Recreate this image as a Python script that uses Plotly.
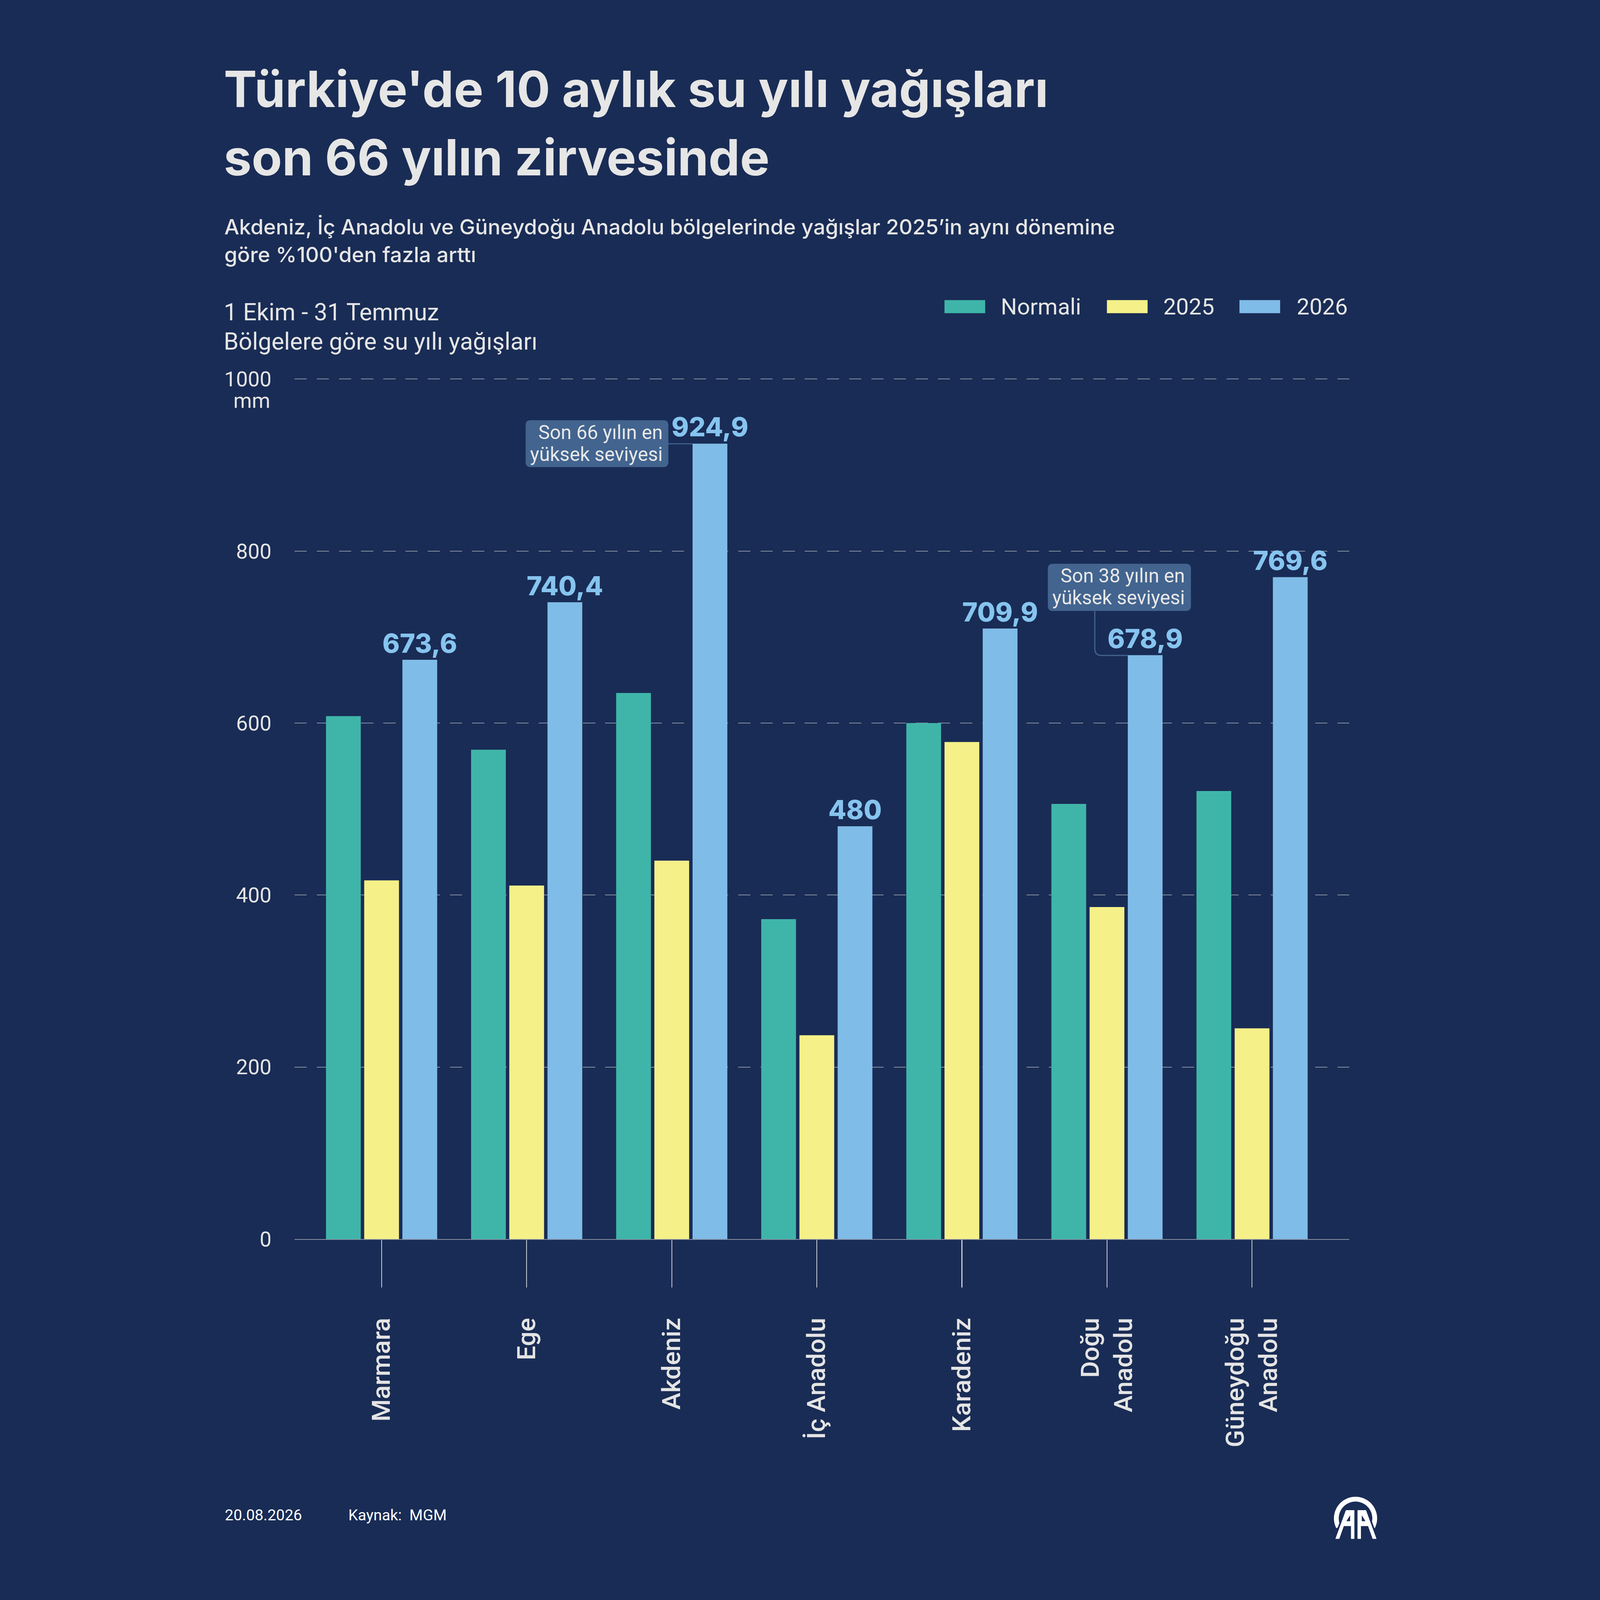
import math
import plotly.graph_objects as go

# ---------------- data ----------------
regions = ["Marmara", "Ege", "Akdeniz", "İç Anadolu", "Karadeniz", "Doğu Anadolu", "Güneydoğu Anadolu"]
region_labels = ["Marmara", "Ege", "Akdeniz", "İç Anadolu", "Karadeniz", "Doğu<br>Anadolu", "Güneydoğu<br>Anadolu"]
normal_vals = [608, 569, 635, 372, 600, 506, 521]
vals_2025 = [417, 411, 440, 237, 578, 386, 245]
vals_2026 = [673.6, 740.4, 924.9, 480, 709.9, 678.9, 769.6]
series_names = ["Normali", "2025", "2026"]
y_ticks = [0, 200, 400, 600, 800, 1000]
y_ticktext = ["0", "200", "400", "600", "800", "1000"]

title_lines = ["Türkiye'de 10 aylık su yılı yağışları", "son 66 yılın zirvesinde"]
subtitle_lines = ["Akdeniz, İç Anadolu ve Güneydoğu Anadolu bölgelerinde yağışlar 2025’in aynı dönemine",
                  "göre %100'den fazla arttı"]
chart_lines = ["1 Ekim - 31 Temmuz", "Bölgelere göre su yılı yağışları"]
note1 = ["Son 66 yılın en", "yüksek seviyesi"]
note2 = ["Son 38 yılın en", "yüksek seviyesi"]
footer_date = "20.08.2026"
footer_src = "Kaynak:  MGM"

# ---------------- style ----------------
BG = "#192c55"
C_NORMAL = "#3fb5a9"
C_2025 = "#f5f088"
C_2026 = "#80bce8"
C_LABEL = "#86c4ef"
C_TEXT = "#e4e4e4"
C_GRID = "#8790a3"
C_BOX = "#42648f"
colors = [C_NORMAL, C_2025, C_2026]

W, H = 4500, 5625
X0, X1 = 473, 4181       # plot area in px
YB, YT = 4356, 1331      # bottom / top of plot area in px
XR = [-0.6, 6.67]
BARGAP, GROUPGAP = 0.21, 0.09


def px(x):
    return (x - X0) / (X1 - X0)


def py(y):
    return (YB - y) / (YB - YT)


def poly(pts):
    return "M " + " L ".join(f"{px(x):.5f},{py(y):.5f}" for x, y in pts) + " Z"


def rbox(x0, y0, x1, y1, r):
    p = lambda x, y: f"{px(x):.5f},{py(y):.5f}"
    return (f"M {p(x0 + r, y0)} L {p(x1 - r, y0)} Q {p(x1, y0)} {p(x1, y0 + r)} "
            f"L {p(x1, y1 - r)} Q {p(x1, y1)} {p(x1 - r, y1)} L {p(x0 + r, y1)} "
            f"Q {p(x0, y1)} {p(x0, y1 - r)} L {p(x0, y0 + r)} Q {p(x0, y0)} {p(x0 + r, y0)} Z")


# pixel geometry of the grouped bars (derived from axis range and gaps)
cat_w = (X1 - X0) / (XR[1] - XR[0])
slot = cat_w * (1 - BARGAP) / 3
barw = slot * (1 - GROUPGAP)


def bar_left(i, k):
    c = X0 + (i - XR[0]) * cat_w + (k - 1) * slot
    return c - barw / 2


def ypx(v):
    return YB - v * (YB - YT) / 1000.0


fig = go.Figure()
all_vals = [normal_vals, vals_2025, vals_2026]
for name, vals, col in zip(series_names, all_vals, colors):
    kw = {}
    if name == "2026":
        kw = dict(text=[f"{v:g}".replace(".", ",") for v in vals], textposition="outside",
                  textfont=dict(family="Inter", size=92, color=C_LABEL, weight=800),
                  constraintext="none", cliponaxis=False)
    fig.add_trace(go.Bar(name=name, x=regions, y=vals, marker=dict(color=col, line=dict(width=0)),
                         hoverinfo="skip", **kw))

fig.update_layout(
    width=W, height=H,
    margin=dict(l=X0, r=W - X1, t=YT, b=H - YB, autoexpand=False),
    paper_bgcolor=BG, plot_bgcolor=BG,
    barmode="group", bargap=BARGAP, bargroupgap=GROUPGAP,
    showlegend=False,
    font=dict(family="Roboto", color=C_TEXT),
)
fig.update_xaxes(
    type="category", range=XR,
    tickvals=regions, ticktext=region_labels, tickangle=-90,
    tickfont=dict(family="Roboto", size=90, color=C_TEXT, weight=500),
    ticks="outside", ticklen=168, tickwidth=3, tickcolor="#c9ccd3",
    ticklabelstandoff=70,
    showline=True, linecolor=C_GRID, linewidth=3, showgrid=False, zeroline=False,
)
fig.update_yaxes(
    range=[0, 1000.5], tickvals=y_ticks, ticktext=y_ticktext,
    tickfont=dict(family="Roboto", size=74, color=C_TEXT),
    ticks="", ticklabelstandoff=80,
    showgrid=True, gridcolor=C_GRID, gridwidth=3, griddash="43px,35px",
    zeroline=False, showline=False,
)

ann = []
shapes = []


def text(x, y, s, size, family="Roboto", color=C_TEXT, weight=400, xanchor="left"):
    ann.append(dict(xref="paper", yref="paper", x=px(x), y=py(y), text=s, showarrow=False,
                    xanchor=xanchor, yanchor="middle", align=xanchor if xanchor != "center" else "center",
                    font=dict(family=family, size=size, color=color, weight=weight)))


# title, subtitle
text(222, 312, title_lines[0], 175, family="Inter", weight=700, color="#e6e6e6")
text(222, 553, title_lines[1], 175, family="Inter", weight=700, color="#e6e6e6")
text(224, 797, subtitle_lines[0], 74, family="Inter", weight=500, color="#e6e6e6")
text(224, 895, subtitle_lines[1], 74, family="Inter", weight=500, color="#e6e6e6")
text(222, 1098, chart_lines[0], 84, color="#e6e6e6")
text(222, 1200, chart_lines[1], 84, color="#e6e6e6")

# unit under 1000 tick
text(390, 1408, "mm", 74, xanchor="right")

# legend
leg = [(2758, 2954), (3329, 3525), (3795, 3994)]
for (sx, tx), name, col in zip(leg, series_names, colors):
    shapes.append(dict(type="rect", xref="paper", yref="paper", x0=px(sx), x1=px(sx + 143),
                       y0=py(1101), y1=py(1055), fillcolor=col, line=dict(width=0)))
    text(tx, 1078, name, 80, color="#e6e6e6")

# note box 1 (Akdeniz 2026 bar)
i1 = regions.index("Akdeniz")
bl = bar_left(i1, 2)
yc = ypx(vals_2026[i1]) + 2
bx1 = bl - 85
shapes.append(dict(type="path", xref="paper", yref="paper", path=rbox(bx1 - 502, yc - 83, bx1, yc + 82, 18),
                   fillcolor=C_BOX, line=dict(width=0)))
shapes.append(dict(type="path", xref="paper", yref="paper",
                   path=f"M {px(bx1)},{py(yc)} L {px(bl)},{py(yc)}",
                   line=dict(color=C_BOX, width=4)))
text(bx1 - 18, yc - 40, note1[0], 68, xanchor="right", color="#e8e8e8")
text(bx1 - 18, yc + 37, note1[1], 68, xanchor="right", color="#e8e8e8")

# note box 2 (Doğu Anadolu 2026 bar)
i2 = regions.index("Doğu Anadolu")
bl2 = bar_left(i2, 2)
yt2 = ypx(vals_2026[i2]) + 2
vx = bl2 - 116
shapes.append(dict(type="path", xref="paper", yref="paper", path=rbox(vx - 165, 1982, vx + 338, 2148, 18),
                   fillcolor=C_BOX, line=dict(width=0)))
shapes.append(dict(type="path", xref="paper", yref="paper",
                   path=(f"M {px(vx)},{py(2148)} L {px(vx)},{py(yt2 - 24)} "
                         f"Q {px(vx)},{py(yt2)} {px(vx + 24)},{py(yt2)} L {px(bl2)},{py(yt2)}"),
                   line=dict(color=C_BOX, width=4)))
text(vx + 319, 2025, note2[0], 68, xanchor="right", color="#e8e8e8")
text(vx + 319, 2102, note2[1], 68, xanchor="right", color="#e8e8e8")

# footer
text(226, 5326, footer_date, 54, color="#ffffff")
text(660, 5326, footer_src, 54, color="#ffffff")

# AA logo
cx, cy, R, r = 4203, 5338, 76, 59
outer = [(cx + R * math.cos(math.radians(t)), cy - R * math.sin(math.radians(t))) for t in range(-27, 208, 6)]
inner = [(cx + r * math.cos(math.radians(t)), cy - r * math.sin(math.radians(t))) for t in range(207, -28, -6)]
shapes.append(dict(type="path", xref="paper", yref="paper", path=poly(outer + inner),
                   fillcolor="#ffffff", line=dict(width=0)))
leftA = [(4128, 5413), (4167, 5306), (4202, 5306), (4202, 5413), (4184, 5413), (4184, 5368), (4164, 5368), (4148, 5413)]
holeA = [(4171, 5348), (4184, 5327), (4184, 5348)]
for pts in (leftA, [(8409 - x, y) for x, y in leftA]):
    shapes.append(dict(type="path", xref="paper", yref="paper", path=poly(pts),
                       fillcolor="#ffffff", line=dict(color=BG, width=6)))
for pts in (holeA, [(8409 - x, y) for x, y in holeA]):
    shapes.append(dict(type="path", xref="paper", yref="paper", path=poly(pts),
                       fillcolor=BG, line=dict(width=0)))

fig.update_layout(annotations=ann, shapes=shapes)

# fit the fixed-size figure into the actual browser viewport (uniform scale, centred)
post = """
(function(){
  var W=%d, H=%d, BG='%s';
  var de=document.documentElement, b=document.body;
  de.style.margin='0'; de.style.padding='0'; de.style.overflow='hidden'; de.style.background=BG;
  b.style.margin='0'; b.style.padding='0'; b.style.overflow='hidden'; b.style.background=BG;
  var gd=document.getElementById('{plot_id}');
  var s=Math.min(1, window.innerWidth/W, window.innerHeight/H);
  var ox=Math.max(0,(window.innerWidth-W*s)/2);
  gd.style.transformOrigin='0 0';
  gd.style.transform='translate('+ox+'px,0px) scale('+s+')';
})();
""" % (W, H, BG)
fig.write_html("out.html", post_script=post)
